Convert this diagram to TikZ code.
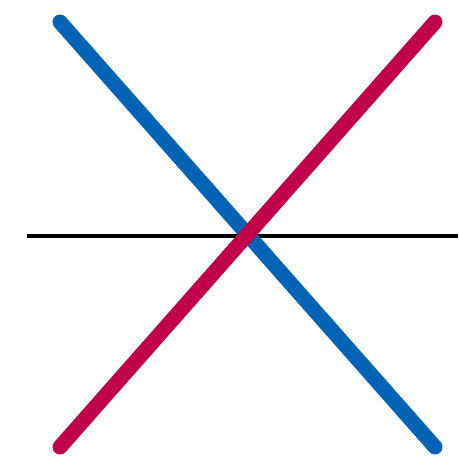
\documentclass[tikz,border=0pt]{standalone}
\usetikzlibrary{calc}

\definecolor{xblue}{RGB}{0,99,181}
\definecolor{xred}{RGB}{192,0,72}

\begin{document}
\begin{tikzpicture}[
  x=1pt, y=1pt,
  bar/.style={line width=15pt, line cap=round},
  axisline/.style={line width=3.6pt, black}
]
  \useasboundingbox (0,0) rectangle (458,463);

  \coordinate (bl) at (60,16);
  \coordinate (tl) at (60,441);
  \coordinate (br) at (435,16);
  \coordinate (tr) at (435,441);
  \coordinate (ax0) at (27,227);
  \coordinate (ax1) at (458,227);

  \draw[axisline] (ax0) -- (ax1);
  \draw[bar, xblue] (tl) -- (br);
  \draw[bar, xred] (bl) -- (tr);
\end{tikzpicture}
\end{document}
